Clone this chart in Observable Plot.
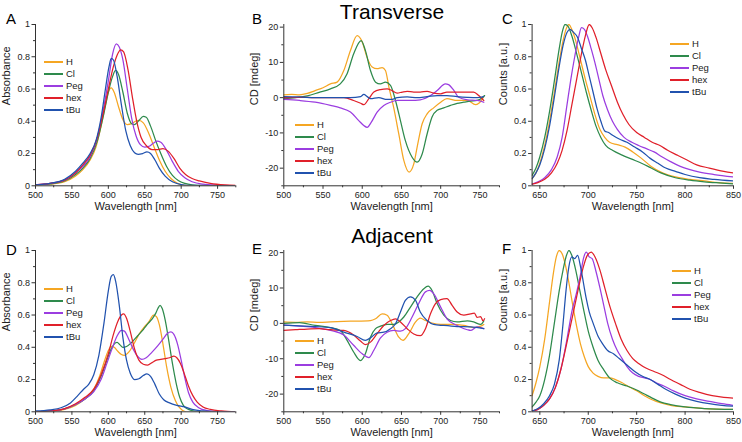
<!DOCTYPE html>
<html><head><meta charset="utf-8">
<script src="https://cdn.jsdelivr.net/npm/d3@7"></script>
<script src="https://cdn.jsdelivr.net/npm/@observablehq/plot@0.6"></script>
<style>
body{margin:0;background:#fff;font-family:"Liberation Sans",Arial,sans-serif;}
#root{position:relative;width:742px;height:442px;overflow:hidden;background:#fff;}
.pan{position:absolute;}
.letter{position:absolute;font-size:15px;line-height:15px;color:#000;}
.title{position:absolute;font-size:21px;line-height:23px;color:#000;transform:translateX(-50%);white-space:nowrap;}
.leg{position:absolute;font-size:9.5px;color:#222;}
.leg .row{display:flex;align-items:center;height:12px;line-height:12px;}
.leg .ln{display:inline-block;width:19px;height:1.5px;margin-right:3px;}
</style></head>
<body><div id="root"></div>
<script>
const names = ["H","Cl","Peg","hex","tBu"];

// ---- Panel A: absorbance, transverse  [wavelength nm, absorbance]
const A_H = [[500,0.004],[520,0.01],[540,0.025],[555,0.06],[565,0.1],[575,0.16],[583,0.24],[590,0.37],[596,0.5],[600,0.58],[604,0.607],[608,0.58],[614,0.49],[620,0.41],[626,0.38],[632,0.385],[637,0.4],[642,0.405],[648,0.39],[655,0.33],[662,0.25],[670,0.16],[678,0.09],[686,0.045],[695,0.015],[705,0.003],[720,0],[775,0]];
const A_Cl = [[500,0.005],[520,0.012],[540,0.03],[555,0.07],[565,0.11],[575,0.17],[585,0.28],[593,0.43],[600,0.58],[606,0.68],[610,0.715],[614,0.69],[620,0.58],[626,0.45],[632,0.385],[636,0.38],[642,0.405],[648,0.43],[652,0.425],[658,0.37],[665,0.28],[672,0.2],[680,0.12],[688,0.065],[696,0.033],[705,0.015],[715,0.006],[730,0.002],[775,0]];
const A_Peg = [[500,0.006],[520,0.015],[540,0.035],[555,0.08],[565,0.12],[575,0.18],[585,0.3],[593,0.47],[600,0.65],[606,0.82],[611,0.88],[615,0.86],[620,0.78],[626,0.6],[632,0.42],[638,0.31],[644,0.255],[650,0.24],[656,0.245],[662,0.265],[667,0.277],[672,0.27],[680,0.22],[688,0.15],[696,0.09],[705,0.05],[715,0.025],[730,0.01],[750,0.004],[775,0]];
const A_hex = [[500,0.006],[520,0.015],[540,0.035],[555,0.08],[565,0.13],[575,0.19],[585,0.3],[593,0.45],[600,0.6],[607,0.74],[612,0.81],[617,0.843],[621,0.83],[627,0.72],[633,0.55],[639,0.4],[645,0.3],[652,0.25],[660,0.225],[668,0.225],[675,0.23],[682,0.215],[690,0.17],[698,0.11],[706,0.07],[715,0.045],[725,0.03],[740,0.015],[760,0.005],[775,0.002]];
const A_tBu = [[500,0.006],[520,0.015],[540,0.04],[555,0.09],[565,0.14],[575,0.2],[583,0.28],[590,0.42],[596,0.6],[601,0.74],[604,0.79],[607,0.78],[612,0.68],[618,0.5],[624,0.34],[630,0.25],[636,0.205],[641,0.195],[647,0.2],[653,0.21],[658,0.2],[664,0.16],[670,0.11],[678,0.06],[688,0.025],[700,0.008],[715,0.002],[775,0]];

// ---- Panel B: CD, transverse  [wavelength nm, mdeg]
const B_H = [[500,0.8],[510,0.9],[520,0.8],[530,1.2],[540,2],[550,2.8],[559.5,3.9],[568,4.4],[576.5,7.7],[585,13.4],[593.5,17.6],[600,15.8],[606,11.5],[612.6,8.7],[619,8.2],[625.4,8.5],[629.6,7.7],[634,3],[640,-2.7],[646.6,-10.3],[653,-17.8],[659.8,-21.1],[665.7,-18.8],[670,-14],[676.4,-7.4],[682.7,-4.6],[691,-2.9],[700,-1.3],[708,-0.3],[721,-0.8],[734,-0.8],[744.4,-2],[748.6,-1.6],[755,0.3]];
const B_Cl = [[500,-0.3],[515,0],[530,0.5],[545,1.5],[559.5,2.5],[572,3.9],[580.7,6.8],[589,12.4],[598.6,16.2],[604,13.4],[610.5,7.7],[617,4.4],[623,3.9],[629.6,4.4],[636,3.5],[642.4,-0.8],[648.7,-6.5],[655,-12.2],[663.6,-16.9],[670,-18.3],[676.4,-16],[682.7,-10.3],[689,-5.5],[695.5,-3.6],[704,-2.9],[712.5,-2.2],[721,-1.6],[729.5,-1.3],[738,-1],[746.5,-0.8],[753,0],[756,0.6]];
const B_Peg = [[500,-0.5],[520,-0.8],[540,-1.3],[559.5,-2.2],[572,-2.9],[585,-4.1],[595.6,-6.5],[602,-7.9],[606.3,-8.4],[611.4,-7],[619,-4.1],[627.5,-2.2],[636,-1.3],[644.5,-0.8],[661.5,-0.8],[674,-0.6],[687,0.6],[695.5,2],[706,3.9],[710,3.7],[717,2],[723,0.1],[734,-0.6],[746.5,-0.8],[755,-1.3]];
const B_hex = [[500,0],[520,0.1],[540,0],[559.5,0],[576.5,0],[589,-0.8],[598,-1.6],[602,-2],[608.4,-0.3],[614.8,1.6],[623.3,2.3],[631.7,2.5],[638,2],[644.5,1.3],[651,1.6],[657.3,1.8],[665.7,1.6],[674,1.6],[682.7,1.8],[691,1.3],[700,1.1],[708,1.6],[717,1.6],[725.3,1.6],[734,1.6],[742,1.6],[748.6,0.6],[755,-0.8]];
const B_tBu = [[500,0.3],[520,0.2],[540,0],[559.5,0],[585,0],[598,0.3],[602,0.9],[606.3,0.3],[610.5,-0.3],[621,0],[631.7,-0.5],[638,-0.5],[644.5,0],[657.3,0.2],[670,0],[682.7,0.3],[695.5,0.6],[708,0.6],[721,0.3],[734,0.1],[746.5,0],[755,0.3]];

// ---- Panel C: emission, transverse  [wavelength nm, normalized counts]
const C_H = [[642,0.045],[646,0.08],[650,0.14],[655,0.25],[660,0.4],[665,0.58],[670,0.77],[674,0.9],[677,0.97],[680,1.0],[683,0.97],[687,0.9],[692,0.78],[697,0.66],[702,0.55],[707,0.44],[712,0.35],[717,0.3],[722,0.27],[730,0.255],[738,0.24],[746,0.21],[755,0.17],[765,0.12],[775,0.085],[790,0.055],[805,0.04],[820,0.03],[835,0.02],[850,0.015]];
const C_Cl = [[642,0.065],[646,0.11],[650,0.18],[655,0.3],[660,0.46],[665,0.65],[670,0.85],[673,0.95],[676,1.0],[679,0.99],[683,0.93],[688,0.82],[693,0.7],[698,0.58],[703,0.47],[708,0.37],[713,0.3],[718,0.25],[725,0.22],[735,0.19],[745,0.165],[755,0.14],[765,0.11],[775,0.08],[790,0.05],[805,0.035],[820,0.025],[835,0.018],[850,0.012]];
const C_Peg = [[642,0.01],[648,0.025],[655,0.05],[662,0.1],[668,0.18],[673,0.3],[678,0.5],[682,0.66],[686,0.8],[690,0.92],[693,0.98],[696,0.97],[699,0.93],[703,0.85],[707,0.76],[711,0.66],[715,0.56],[720,0.47],[725,0.4],[730,0.35],[737,0.3],[745,0.27],[752,0.25],[760,0.23],[768,0.21],[776,0.18],[785,0.15],[795,0.12],[805,0.1],[815,0.085],[830,0.07],[850,0.055]];
const C_hex = [[642,0.01],[648,0.02],[655,0.04],[662,0.08],[668,0.14],[673,0.22],[678,0.34],[683,0.5],[688,0.66],[693,0.82],[697,0.93],[701,1.0],[704,0.98],[708,0.92],[713,0.82],[718,0.72],[724,0.62],[730,0.52],[736,0.44],[742,0.38],[750,0.33],[758,0.3],[766,0.27],[774,0.25],[782,0.22],[792,0.19],[802,0.16],[812,0.13],[825,0.11],[840,0.09],[850,0.08]];
const C_tBu = [[642,0.045],[646,0.08],[650,0.13],[655,0.23],[660,0.37],[665,0.55],[670,0.74],[674,0.87],[678,0.95],[681,0.97],[685,0.95],[689,0.92],[693,0.85],[697,0.78],[701,0.68],[705,0.58],[709,0.48],[713,0.4],[717,0.34],[721,0.33],[726,0.31],[732,0.29],[740,0.27],[748,0.24],[756,0.21],[764,0.17],[772,0.14],[780,0.11],[790,0.09],[800,0.07],[815,0.05],[830,0.04],[850,0.03]];

// ---- Panel D: absorbance, adjacent
const D_H = [[500,0],[520,0.004],[540,0.015],[555,0.04],[568,0.08],[580,0.14],[588,0.22],[595,0.32],[600,0.38],[604,0.405],[608,0.4],[613,0.375],[618,0.355],[622,0.35],[628,0.37],[635,0.42],[642,0.48],[650,0.53],[656,0.56],[662,0.6],[666,0.59],[670,0.54],[675,0.42],[680,0.28],[686,0.15],[692,0.07],[697,0.03],[702,0.008],[706,0]];
const D_Cl = [[500,0],[520,0.005],[540,0.018],[555,0.045],[568,0.08],[580,0.13],[590,0.22],[598,0.32],[604,0.39],[608,0.42],[612,0.43],[616,0.415],[620,0.4],[625,0.405],[632,0.43],[640,0.47],[648,0.51],[655,0.55],[660,0.575],[665,0.61],[668,0.64],[671,0.66],[674,0.64],[678,0.57],[683,0.44],[688,0.3],[693,0.18],[698,0.09],[703,0.04],[710,0.015],[720,0.003],[740,0]];
const D_Peg = [[500,0],[520,0.005],[540,0.018],[555,0.045],[568,0.08],[580,0.125],[590,0.2],[598,0.3],[605,0.39],[612,0.47],[618,0.505],[622,0.5],[628,0.45],[634,0.39],[640,0.345],[646,0.325],[652,0.335],[660,0.37],[668,0.41],[675,0.45],[681,0.485],[686,0.495],[690,0.48],[695,0.42],[700,0.32],[705,0.21],[710,0.12],[716,0.06],[724,0.025],[735,0.008],[750,0.002],[775,0]];
const D_hex = [[500,0],[520,0.005],[540,0.02],[555,0.05],[568,0.09],[580,0.14],[590,0.23],[600,0.36],[607,0.48],[613,0.56],[618,0.6],[621,0.607],[625,0.58],[630,0.5],[636,0.39],[642,0.32],[648,0.295],[654,0.29],[660,0.305],[666,0.32],[672,0.325],[678,0.33],[684,0.335],[690,0.345],[694,0.335],[699,0.3],[704,0.24],[710,0.16],[716,0.1],[722,0.06],[730,0.03],[740,0.015],[755,0.005],[775,0]];
const D_tBu = [[500,0.005],[520,0.012],[535,0.025],[548,0.055],[558,0.1],[566,0.14],[573,0.17],[580,0.23],[587,0.35],[594,0.55],[600,0.75],[604,0.84],[607,0.85],[610,0.81],[615,0.66],[620,0.46],[625,0.32],[630,0.24],[636,0.2],[642,0.205],[648,0.225],[653,0.235],[658,0.22],[664,0.17],[670,0.11],[676,0.075],[684,0.055],[694,0.04],[705,0.03],[715,0.015],[730,0.005],[750,0],[775,0]];

// ---- Panel E: CD, adjacent
const E_H = [[500,0.4],[515,0.3],[530,0.4],[545,0.3],[559.5,0.4],[585,0.6],[610.5,0.8],[617,1.3],[625.4,2.7],[631.7,2.3],[640,-1],[646.6,-3.9],[652,-4.8],[659.4,-2.9],[668,0.4],[674,1.5],[680.6,0.8],[689,0.1],[700,-0.3],[712.5,-0.3],[729.5,-0.6],[742,-1.2],[751,-0.8],[755,-0.3]];
const E_Cl = [[500,0],[520,0.2],[540,-0.6],[559.5,-1.2],[572,-2],[580.7,-4.8],[589,-8.1],[597.7,-10.5],[604,-8.6],[610.5,-3.9],[617,-1.5],[623.3,-0.8],[631.7,-0.3],[640,-0.3],[646.6,0.4],[653,1.8],[661.5,4.6],[670,7.5],[678.5,9.8],[684,10.5],[689,9.3],[695.5,5.6],[704,2.3],[712.5,0.8],[721,0.4],[734,0.7],[742,0.4],[751,-0.3],[755,0.7]];
const E_Peg = [[500,-0.5],[520,-0.8],[540,-1.2],[559.5,-2],[576.5,-3.3],[589,-6.2],[600,-8.6],[608.4,-9.7],[614.8,-7.6],[623.3,-4.1],[631.7,-2.5],[640,-2],[648.7,-2.2],[655,-1.5],[663.6,1.8],[672,5.6],[680.6,8.9],[686,9.3],[691,8.4],[700,4.6],[708,1.3],[721,-0.6],[734,-1.8],[738,-2],[746.5,-1],[755,-1.5]];
const E_hex = [[500,-2],[515,-1.8],[530,-1.6],[545,-1.5],[559.5,-1.8],[576.5,-2],[589,-3.3],[597.7,-5],[604,-6],[610.5,-5.3],[619,-2.9],[627.5,-0.6],[636,0.8],[642.4,1.3],[648.7,0.4],[657.3,-1.5],[665.7,-3],[674,-3.5],[680.6,-1.5],[687,2.7],[693.4,5.6],[700,6.7],[708,7],[714.6,5.1],[721,3.2],[729.5,2.3],[738,2.7],[743,2.9],[746.5,1.7],[751,1.9],[754,0.7],[756,1.3]];
const E_tBu = [[500,-0.5],[520,-0.7],[540,-0.9],[559.5,-1.2],[576.5,-2.5],[593.5,-3.7],[604,-4.8],[610.5,-4.1],[619,-2.7],[627.5,-2.5],[636,-1.5],[642.4,-0.1],[648.7,3.2],[655,6.5],[661.5,7.5],[668,6.5],[674,3.2],[682.7,0.8],[691,-0.3],[704,-0.6],[721,-0.9],[738,-1],[755,-1.5]];

// ---- Panel F: emission, adjacent
const F_H = [[642,0.1],[646,0.18],[650,0.28],[655,0.45],[660,0.68],[664,0.86],[667,0.96],[670,1.0],[673,0.98],[676,0.92],[680,0.8],[684,0.66],[688,0.53],[692,0.42],[696,0.34],[700,0.28],[705,0.24],[710,0.22],[716,0.21],[722,0.21],[728,0.2],[735,0.18],[742,0.155],[750,0.13],[758,0.1],[766,0.075],[775,0.055],[785,0.04],[800,0.03],[820,0.02],[850,0.015]];
const F_Cl = [[642,0.03],[646,0.06],[650,0.1],[655,0.2],[660,0.35],[665,0.55],[670,0.75],[674,0.88],[677,0.96],[680,1.0],[683,0.97],[687,0.88],[691,0.76],[695,0.64],[700,0.5],[705,0.4],[710,0.32],[716,0.26],[722,0.21],[730,0.18],[740,0.16],[750,0.135],[758,0.11],[766,0.085],[775,0.06],[785,0.045],[800,0.03],[820,0.02],[850,0.015]];
const F_Peg = [[642,0.005],[648,0.015],[654,0.04],[660,0.08],[666,0.15],[672,0.27],[678,0.45],[683,0.62],[688,0.74],[692,0.85],[695,0.95],[698,0.99],[701,0.96],[704,0.95],[708,0.87],[712,0.77],[716,0.66],[720,0.55],[725,0.45],[730,0.38],[735,0.33],[740,0.28],[746,0.24],[752,0.22],[758,0.21],[764,0.2],[770,0.18],[778,0.16],[788,0.13],[800,0.1],[812,0.08],[825,0.065],[838,0.05],[850,0.04]];
const F_hex = [[642,0.005],[648,0.015],[654,0.04],[660,0.08],[666,0.15],[672,0.27],[678,0.43],[684,0.6],[690,0.77],[695,0.9],[699,0.97],[703,0.99],[707,0.96],[712,0.88],[717,0.77],[722,0.66],[728,0.55],[734,0.45],[740,0.38],[746,0.33],[752,0.3],[760,0.27],[768,0.25],[776,0.23],[785,0.2],[795,0.17],[805,0.14],[815,0.12],[828,0.1],[840,0.09],[850,0.085]];
const F_tBu = [[642,0.005],[648,0.02],[654,0.05],[660,0.1],[665,0.17],[670,0.32],[674,0.55],[677,0.75],[680,0.9],[683,0.96],[686,0.95],[689,0.97],[692,0.9],[695,0.8],[698,0.7],[701,0.62],[705,0.55],[710,0.47],[715,0.42],[720,0.38],[726,0.36],[732,0.33],[740,0.29],[748,0.25],[756,0.22],[764,0.2],[772,0.17],[780,0.14],[790,0.11],[800,0.085],[812,0.065],[825,0.05],[838,0.04],[850,0.035]];

// ---- axis ticks / labels
const absYTicks = [0,0.2,0.4,0.6,0.8,1];
const absYMinor = [0.1,0.3,0.5,0.7,0.9];
const cdYTicks = [-20,-10,0,10,20];
const cdYMinor = [-25,-15,-5,5,15];
const visXTicks = [500,550,600,650,700,750];
const visXMinor = [525,575,625,675,725,775];
const emXTicks = [650,700,750,800,850];
const emXMinor = [675,725,775,825];
const xLabel = "Wavelength [nm]";
const yLabels = {abs: "Absorbance", cd: "CD [mdeg]", em: "Counts [a.u.]"};
const titles = ["Transverse", "Adjacent"];

// ---- drawing
const colors = ["#f5a623","#2e8a4c","#9b3de0","#e0202a","#2152ae"];
const root = document.getElementById("root");

function panel(cfg) {
  const {left, top, w, h, mL, mT, mR, mB, xDomain, yDomain, xT, xM, yT, yM, yLab, series} = cfg;
  const marks = [];
  series.forEach((s, i) => {
    marks.push(Plot.line(s, {x: d => d[0], y: d => d[1], stroke: colors[i], strokeWidth: 1.25, curve: "monotone-x", clip: true}));
  });
  marks.push(
    Plot.ruleX([xDomain[0]], {stroke: "#333", strokeWidth: 1}),
    Plot.ruleY([yDomain[0]], {stroke: "#333", strokeWidth: 1}),
    Plot.axisX({ticks: xT, tickSize: 3.5, tickPadding: 2, tickFormat: d => String(d), label: null, fontSize: 9, stroke: "#333"}),
    Plot.axisX({ticks: xM, tickSize: 2, tickFormat: () => "", label: null, stroke: "#333"}),
    Plot.axisY({ticks: yT, tickSize: 3.5, tickPadding: 2, tickFormat: d => String(d), label: null, fontSize: 9, stroke: "#333"}),
    Plot.axisY({ticks: yM, tickSize: 2, tickFormat: () => "", label: null, stroke: "#333"}),
    Plot.text([xLabel], {text: d => d, frameAnchor: "bottom", dy: 24, fontSize: 11, fill: "#222"}),
    Plot.text([yLab], {text: d => d, frameAnchor: "left", rotate: -90, dx: -29, fontSize: 11, fill: "#222"})
  );
  const svg = Plot.plot({
    width: w, height: h,
    marginLeft: mL, marginTop: mT, marginRight: mR, marginBottom: mB,
    x: {domain: xDomain},
    y: {domain: yDomain},
    style: {fontFamily: "'Liberation Sans', Arial, sans-serif", fontSize: "9px", color: "#222", background: "transparent", overflow: "visible"},
    marks
  });
  svg.classList.add("pan");
  svg.style.left = left + "px";
  svg.style.top = top + "px";
  root.appendChild(svg);
}

function legend(left, top) {
  const div = document.createElement("div");
  div.className = "leg";
  div.style.left = left + "px";
  div.style.top = top + "px";
  names.forEach((n, i) => {
    const r = document.createElement("div");
    r.className = "row";
    const ln = document.createElement("span");
    ln.className = "ln";
    ln.style.background = colors[i];
    r.appendChild(ln);
    r.appendChild(document.createTextNode(n));
    div.appendChild(r);
  });
  root.appendChild(div);
}

function text(cls, str, left, top) {
  const d = document.createElement("div");
  d.className = cls;
  d.textContent = str;
  d.style.left = left + "px";
  d.style.top = top + "px";
  root.appendChild(d);
}

const absDom = [0, 1], cdDomT = [-25, 20.75], cdDomA = [-25, 20.6], visDom = [500, 775], emDom = [642, 850];

panel({left: 0, top: 0, w: 240, h: 218, mL: 35, mT: 24, mR: 4.7, mB: 32.7, xDomain: visDom, yDomain: absDom, xT: visXTicks, xM: visXMinor, yT: absYTicks, yM: absYMinor, yLab: yLabels.abs, series: [A_H, A_Cl, A_Peg, A_hex, A_tBu]});
panel({left: 240, top: 0, w: 262, h: 218, mL: 43.3, mT: 24, mR: 3, mB: 32.7, xDomain: visDom, yDomain: cdDomT, xT: visXTicks, xM: visXMinor, yT: cdYTicks, yM: cdYMinor, yLab: yLabels.cd, series: [B_H, B_Cl, B_Peg, B_hex, B_tBu]});
panel({left: 490, top: 0, w: 252, h: 218, mL: 41.6, mT: 24, mR: 9, mB: 32.7, xDomain: emDom, yDomain: absDom, xT: emXTicks, xM: emXMinor, yT: absYTicks, yM: absYMinor, yLab: yLabels.em, series: [C_H, C_Cl, C_Peg, C_hex, C_tBu]});
panel({left: 0, top: 220, w: 240, h: 222, mL: 35, mT: 30, mR: 4.7, mB: 30.7, xDomain: visDom, yDomain: absDom, xT: visXTicks, xM: visXMinor, yT: absYTicks, yM: absYMinor, yLab: yLabels.abs, series: [D_H, D_Cl, D_Peg, D_hex, D_tBu]});
panel({left: 240, top: 220, w: 262, h: 222, mL: 43.3, mT: 30, mR: 3, mB: 30.7, xDomain: visDom, yDomain: cdDomA, xT: visXTicks, xM: visXMinor, yT: cdYTicks, yM: cdYMinor, yLab: yLabels.cd, series: [E_H, E_Cl, E_Peg, E_hex, E_tBu]});
panel({left: 490, top: 220, w: 252, h: 222, mL: 41.6, mT: 30, mR: 9, mB: 30.7, xDomain: emDom, yDomain: absDom, xT: emXTicks, xM: emXMinor, yT: absYTicks, yM: absYMinor, yLab: yLabels.em, series: [F_H, F_Cl, F_Peg, F_hex, F_tBu]});

legend(44, 56);
legend(295, 119);
legend(670, 38);
legend(44, 283);
legend(295, 335);
legend(672, 265);

text("letter", "A", 6, 11);
text("letter", "B", 252, 11);
text("letter", "C", 502, 11);
text("letter", "D", 6, 242);
text("letter", "E", 252, 241);
text("letter", "F", 502, 241);
text("title", titles[0], 392, 0);
text("title", titles[1], 392, 224);
</script>
</body></html>
